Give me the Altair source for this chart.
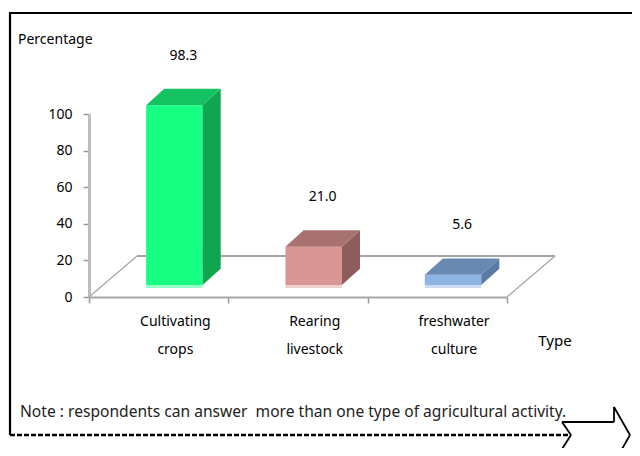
import altair as alt
import pandas as pd

# ---- data ----
categories = ["Cultivating crops", "Rearing livestock", "freshwater culture"]
label_lines = [["Cultivating", "crops"], ["Rearing", "livestock"], ["freshwater", "culture"]]
values = [98.3, 21.0, 5.6]
value_text = ["98.3", "21.0", "5.6"]
y_ticks = [0, 20, 40, 60, 80, 100]
x_ticks = [0, 1, 2, 3]

# ---- styling / geometry constants (not data) ----
front_colors = ["#17FF82", "#D99694", "#8EB4E3"]
side_colors = ["#0FA64F", "#8D5C5B", "#587AA3"]
top_colors = ["#14C262", "#A87270", "#6A89B0"]
BASE = 6.5        # bars stand a little behind the front edge of the floor
X0, X1 = 0.41, 0.815   # front face within a category slot
DX, DY = 0.13, 9.0     # 3-D depth offsets (in scale units)
FLOOR_DX, FLOOR_DY = 0.345, 22.4
FONT = "Noto Sans"

W, H = 418, 183
PADL, PADT = 81, 106
TOTAL_W, TOTAL_H = 624, 440

bars = pd.DataFrame({
    "type": categories,
    "idx": range(len(categories)),
    "value": values,
    "vtext": value_text,
    "lines": label_lines,
})

# side and top faces as parallelograms built from the same values
side_rows, top_rows = [], []
for i, (c, v) in enumerate(zip(categories, values)):
    xr = i + X1
    xl = i + X0
    side_rows += [
        {"type": c, "x": xr, "lo": BASE, "hi": BASE + v},
        {"type": c, "x": xr + DX, "lo": BASE + DY, "hi": BASE + v + DY},
    ]
    top = BASE + v
    top_rows += [
        {"type": c, "x": xl, "lo": top, "hi": top},
        {"type": c, "x": xl + DX, "lo": top, "hi": top + DY},
        {"type": c, "x": xr, "lo": top, "hi": top + DY},
        {"type": c, "x": xr + DX, "lo": top + DY, "hi": top + DY},
    ]
side = pd.DataFrame(side_rows)
top = pd.DataFrame(top_rows)

xscale = alt.Scale(domain=[0, 3], nice=False, zero=False)
yscale = alt.Scale(domain=[0, 100], nice=False)

AX = alt.Axis(values=x_ticks, labels=False, grid=False, title=None,
              domainColor="#a6a6a6", domainWidth=2,
              tickColor="#9a9a9a", tickSize=6, tickWidth=1.5)
AY = alt.Axis(values=y_ticks, format="d", grid=False, title=None,
              domainColor="#bdbdbd", domainWidth=3,
              tickColor="#9a9a9a", tickSize=6, tickWidth=1.5,
              labelFont=FONT, labelFontSize=14, labelColor="#000000",
              labelPadding=11, labelOverlap=False)

def XQ(field):
    return alt.X(field, scale=xscale, axis=AX, title=None)

def YQ(field):
    return alt.Y(field, scale=yscale, axis=AY, title=None)

one = alt.Data(values=[{"a": 1}])

def seg(x, y, x2, y2, color="#000000", width=1.0, dash=None):
    kw = dict(color=color, strokeWidth=width)
    if dash:
        kw["strokeDash"] = dash
    return alt.Chart(one).mark_rule(**kw).encode(
        x=alt.value(x), y=alt.value(y), x2=alt.value(x2), y2=alt.value(y2))

floor_df = pd.DataFrame({"a": [1]})
def floor_seg(xa, ya, xb, yb, color="#a8a8a8", width=1.3):
    return alt.Chart(floor_df).transform_calculate(
        xa=f"{xa}", ya=f"{ya}", xb=f"{xb}", yb=f"{yb}"
    ).mark_rule(color=color, strokeWidth=width).encode(
        x=XQ("xa:Q"), y=YQ("ya:Q"), x2="xb:Q", y2="yb:Q")

floor = alt.layer(
    floor_seg(0, 0, FLOOR_DX, FLOOR_DY),
    floor_seg(FLOOR_DX, FLOOR_DY, 3 + FLOOR_DX, FLOOR_DY, color="#858585", width=1.6),
    floor_seg(3, 0, 3 + FLOOR_DX, FLOOR_DY),
)

base = alt.Chart(bars)

front = base.transform_calculate(
    x0=f"datum.idx + {X0}", x1=f"datum.idx + {X1}",
    y0=f"{BASE}", y1=f"{BASE} + datum.value",
).mark_rect().encode(
    x=XQ("x0:Q"), x2="x1:Q", y=YQ("y0:Q"), y2="y1:Q",
    color=alt.Color("type:N", scale=alt.Scale(domain=categories, range=front_colors), legend=None),
)

strip = base.transform_calculate(
    x0=f"datum.idx + {X0}", x1=f"datum.idx + {X1}",
    y0=f"{BASE} - 1.6", y1=f"{BASE}",
).mark_rect(opacity=0.45).encode(
    x=XQ("x0:Q"), x2="x1:Q", y=YQ("y0:Q"), y2="y1:Q",
    color=alt.Color("type:N", scale=alt.Scale(domain=categories, range=front_colors), legend=None),
)

side_l = alt.Chart(side).mark_area(interpolate="linear").encode(
    x=XQ("x:Q"), y=YQ("lo:Q"), y2="hi:Q",
    color=alt.Color("type:N", scale=alt.Scale(domain=categories, range=side_colors), legend=None),
)
top_l = alt.Chart(top).mark_area(interpolate="linear").encode(
    x=XQ("x:Q"), y=YQ("lo:Q"), y2="hi:Q",
    color=alt.Color("type:N", scale=alt.Scale(domain=categories, range=top_colors), legend=None),
)

vlabels = base.transform_calculate(
    lx=f"datum.idx + {X0 + (X1 - X0) / 2 + DX / 2}",
    ly=f"{BASE} + datum.value + 27",
).mark_text(font=FONT, fontSize=14, color="#000000", baseline="middle").encode(
    x=XQ("lx:Q"), y=YQ("ly:Q"), text="vtext:N",
)

clabels = base.transform_calculate(
    lx=f"datum.idx + 0.62",
).mark_text(font=FONT, fontSize=14, color="#000000", baseline="middle",
            lineHeight=28).encode(
    x=XQ("lx:Q"), y=alt.value(208), text="lines",
)

def txt(s, x, y, align="left", size=14, color="#000000"):
    return alt.Chart(one).mark_text(text=s, font=FONT, fontSize=size, color=color,
                                    align=align, baseline="middle").encode(
        x=alt.value(x), y=alt.value(y))

texts = alt.layer(
    txt("Percentage", -71, -74),
    txt("Type", 466, 227, align="center", size=15),
    txt("Note : respondents can answer \u00a0more than one type of agricultural activity.",
        -69, 298, size=15.6, color="#222222"),
)

# frame around the chart, dashed bottom and notched arrow
ox, oy = 89, 114
def P(x, y):
    return x - ox, y - oy

frame = []
ax, ay = P(10, 13)
bx, by = P(632, 13)
frame.append(seg(ax - 1, ay, bx, by, width=2.2))
cx, cy = P(10, 435)
frame.append(seg(ax, ay, cx, cy, width=2.2))
dx_, dy_ = P(571, 435)
frame.append(seg(cx, cy, dx_, dy_, width=2.6, dash=[5, 2]))
arrow_pts = [(562, 422), (614, 422), (614, 407), (630, 435), (614, 463)]
for (x1, y1), (x2, y2) in zip(arrow_pts[:-1], arrow_pts[1:]):
    a1, b1 = P(x1, y1); a2, b2 = P(x2, y2)
    frame.append(seg(a1, b1, a2, b2, width=1.8))
arrow_pts2 = [(562, 422), (571, 435), (562, 449), (614, 449), (614, 463)]
for (x1, y1), (x2, y2) in zip(arrow_pts2[:-1], arrow_pts2[1:]):
    a1, b1 = P(x1, y1); a2, b2 = P(x2, y2)
    frame.append(seg(a1, b1, a2, b2, width=1.8))

chart = alt.layer(
    floor, front, strip, side_l, top_l, vlabels, clabels, texts, *frame
).resolve_scale(color="independent").properties(
    width=W, height=H,
    autosize=alt.AutoSizeParams(type="none"),
    padding={"left": PADL, "top": PADT,
             "right": TOTAL_W - PADL - W, "bottom": TOTAL_H - PADT - H},
    background="white",
).configure_view(stroke=None)

chart.save("out.html", embed_options={"renderer": "svg", "actions": False})
